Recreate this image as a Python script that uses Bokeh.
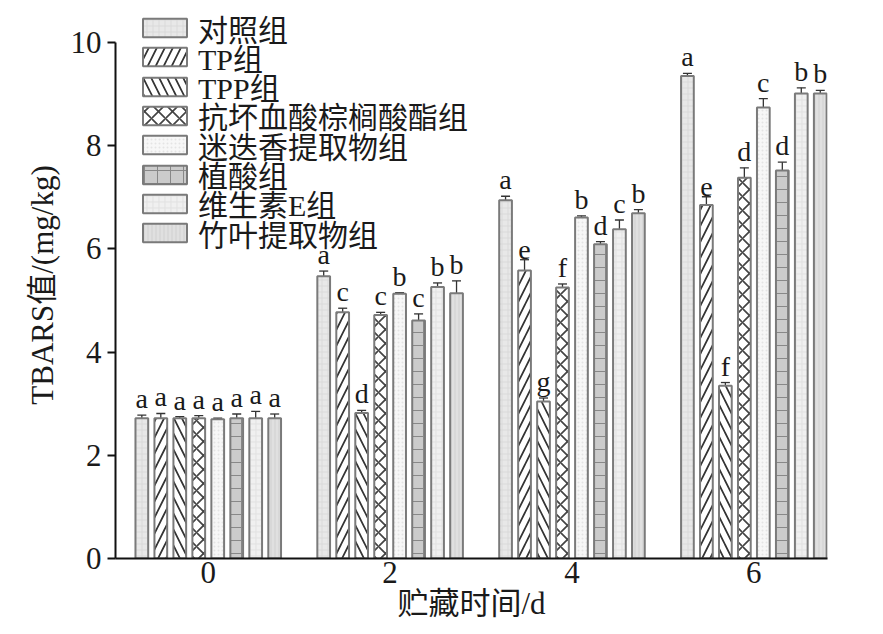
from bokeh.plotting import figure
from bokeh.models import ColumnDataSource, Whisker, Legend, LegendItem, FixedTicker, Range1d
from bokeh.core.properties import value
from bokeh.embed import file_html
from bokeh.resources import INLINE

days = [0, 2, 4, 6]
day_labels = ["0", "2", "4", "6"]
groups = ["对照组", "TP组", "TPP组", "抗坏血酸棕榈酸酯组", "迷迭香提取物组", "植酸组", "维生素E组", "竹叶提取物组"]

ctrl = [2.72, 5.47, 6.94, 9.35]
tp = [2.72, 4.77, 5.58, 6.85]
tpp = [2.72, 2.82, 3.04, 3.35]
ap = [2.72, 4.72, 5.25, 7.38]
ros = [2.70, 5.13, 6.61, 8.74]
phy = [2.72, 4.61, 6.09, 7.52]
ve = [2.72, 5.26, 6.38, 9.01]
bam = [2.72, 5.14, 6.69, 9.01]

ctrl_err = [0.06, 0.10, 0.08, 0.05]
tp_err = [0.09, 0.08, 0.21, 0.16]
tpp_err = [0.03, 0.05, 0.07, 0.06]
ap_err = [0.05, 0.05, 0.07, 0.19]
ros_err = [0.02, 0.02, 0.03, 0.17]
phy_err = [0.08, 0.13, 0.05, 0.16]
ve_err = [0.13, 0.08, 0.18, 0.11]
bam_err = [0.08, 0.24, 0.07, 0.06]

ctrl_sig = ["a", "a", "a", "a"]
tp_sig = ["a", "c", "e", "e"]
tpp_sig = ["a", "d", "g", "f"]
ap_sig = ["a", "c", "f", "d"]
ros_sig = ["a", "b", "b", "c"]
phy_sig = ["a", "c", "d", "d"]
ve_sig = ["a", "b", "c", "b"]
bam_sig = ["a", "b", "b", "b"]

series = [
    (ctrl, ctrl_err, ctrl_sig),
    (tp, tp_err, tp_sig),
    (tpp, tpp_err, tpp_sig),
    (ap, ap_err, ap_sig),
    (ros, ros_err, ros_sig),
    (phy, phy_err, phy_sig),
    (ve, ve_err, ve_sig),
    (bam, bam_err, bam_sig),
]

styles = [
    dict(fill_color="#e8e8e8", hatch_pattern="cross", hatch_scale=6, hatch_color="#cfcfcf", hatch_weight=0.6),
    dict(fill_color="#ffffff", hatch_pattern="right_diagonal_line", hatch_scale=16, hatch_color="#333333", hatch_weight=1.7),
    dict(fill_color="#ffffff", hatch_pattern="left_diagonal_line", hatch_scale=16, hatch_color="#333333", hatch_weight=1.7),
    dict(fill_color="#ffffff", hatch_pattern="diagonal_cross", hatch_scale=14, hatch_color="#444444", hatch_weight=1.7),
    dict(fill_color="#f7f7f7", hatch_pattern="dot", hatch_scale=4, hatch_color="#e4e4e4", hatch_weight=0.5),
    dict(fill_color="#cbcbcb", hatch_pattern="cross", hatch_scale=13, hatch_color="#888888", hatch_weight=1.0),
    dict(fill_color="#f0f0f0", hatch_pattern="cross", hatch_scale=6, hatch_color="#d8d8d8", hatch_weight=0.6),
    dict(fill_color="#e0e0e0", hatch_pattern="vertical_line", hatch_scale=4, hatch_color="#c6c6c6", hatch_weight=0.6),
]

SERIF = "'Liberation Serif', 'Noto Sans CJK SC'"

FRAME_H = 547
p = figure(width=868, height=626, output_backend="svg", toolbar_location=None,
           x_range=Range1d(-1.02, 6.81), y_range=Range1d(0, 10.6),
           min_border_left=115, min_border_right=41, min_border_top=11, min_border_bottom=68)
p.xgrid.visible = False
p.ygrid.visible = False
p.outline_line_color = None
p.background_fill_color = "white"

bar_step = 0.2087
bar_w = 0.14
# legend layout (screen px relative to frame)
leg_row = 29.3
leg_item_h = 43.0
first_center_from_top = 17.0

for i, ((vals, errs, sigs), st) in enumerate(zip(series, styles)):
    xs = [d + (i - 3.5) * bar_step for d in days]
    src = ColumnDataSource(dict(x=xs, top=vals,
                                upper=[v + e for v, e in zip(vals, errs)],
                                lower=[v - e for v, e in zip(vals, errs)],
                                sig=sigs))
    r = p.vbar(x="x", top="top", width=bar_w, bottom=0, source=src,
               line_color="#7a7a7a", line_width=2, **st)
    w = Whisker(base="x", upper="upper", lower="lower", source=src,
                line_color="#333333", line_width=1.3)
    w.upper_head.size = 9
    w.lower_head.size = 9
    w.upper_head.line_color = "#333333"
    w.lower_head.line_color = "#333333"
    w.upper_head.line_width = 1.3
    w.lower_head.line_width = 1.3
    p.add_layout(w)
    p.text(x="x", y="upper", text="sig", source=src, text_align="center",
           text_baseline="bottom", y_offset=-1, text_font=value(SERIF),
           text_font_size="28px", text_color="#1a1a1a")
    center_from_top = first_center_from_top + i * leg_row
    bottom_from_frame_bottom = FRAME_H - center_from_top - leg_item_h / 2
    leg = Legend(items=[LegendItem(label=groups[i], renderers=[r])],
                 location=(22, bottom_from_frame_bottom), orientation="vertical",
                 glyph_width=55, glyph_height=23, label_height=23, spacing=0,
                 padding=0, margin=0, label_standoff=6,
                 label_text_font=SERIF, label_text_font_size="30px",
                 label_text_color="#1a1a1a",
                 border_line_color=None, background_fill_alpha=0)
    p.add_layout(leg, "center")

p.xaxis.ticker = FixedTicker(ticks=days)
p.xaxis.major_label_overrides = {d: l for d, l in zip(days, day_labels)}
p.xaxis.major_tick_out = 0
p.xaxis.major_tick_in = 0
p.xaxis.minor_tick_out = 0
p.xaxis.minor_tick_in = 0
p.xaxis.axis_line_width = 2
p.xaxis.axis_line_color = "#111111"
p.xaxis.major_label_text_font = SERIF
p.xaxis.major_label_text_font_size = "31px"
p.xaxis.major_label_text_color = "#1a1a1a"
p.xaxis.major_label_standoff = 3
p.xaxis.axis_label = "贮藏时间/d"
p.xaxis.axis_label_text_font = SERIF
p.xaxis.axis_label_text_font_size = "31px"
p.xaxis.axis_label_text_font_style = "normal"
p.xaxis.axis_label_text_color = "#1a1a1a"
p.xaxis.axis_label_standoff = 0

p.yaxis.ticker = FixedTicker(ticks=[0, 2, 4, 6, 8, 10])
p.yaxis.bounds = (0, 10)
p.yaxis.major_tick_out = 8
p.yaxis.major_tick_in = 0
p.yaxis.minor_tick_out = 0
p.yaxis.minor_tick_in = 0
p.yaxis.axis_line_width = 2
p.yaxis.major_tick_line_width = 2
p.yaxis.axis_line_color = "#111111"
p.yaxis.major_tick_line_color = "#111111"
p.yaxis.major_label_text_font = SERIF
p.yaxis.major_label_text_font_size = "31px"
p.yaxis.major_label_text_color = "#1a1a1a"
p.yaxis.major_label_standoff = 6
p.yaxis.axis_label = "TBARS值/(mg/kg)"
p.yaxis.axis_label_text_font = SERIF
p.yaxis.axis_label_text_font_size = "31px"
p.yaxis.axis_label_text_font_style = "normal"
p.yaxis.axis_label_text_color = "#1a1a1a"
p.yaxis.axis_label_standoff = 8

open("out.html", "w").write(file_html(p, INLINE))
